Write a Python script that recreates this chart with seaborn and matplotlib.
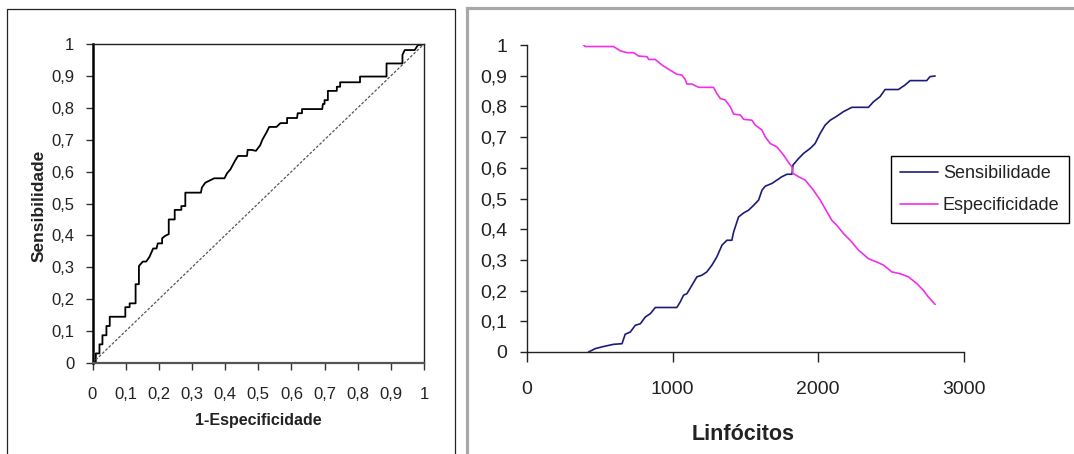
import numpy as np
import pandas as pd
import matplotlib
matplotlib.use("Agg")
import matplotlib.pyplot as plt
from matplotlib.patches import Rectangle
from matplotlib.ticker import FixedLocator, FuncFormatter
import seaborn as sns

# ROC curve vertices (1 - specificity, sensitivity)
roc_fpr = [0.0, 0.010, 0.010, 0.021, 0.021, 0.030, 0.030, 0.042, 0.042, 0.052, 0.052,
           0.099, 0.099, 0.112, 0.112, 0.130, 0.130, 0.140, 0.140, 0.152, 0.162,
           0.172, 0.183, 0.193, 0.197, 0.210, 0.210, 0.220, 0.230, 0.230, 0.248,
           0.248, 0.268, 0.268, 0.280, 0.280, 0.327, 0.330, 0.340, 0.367, 0.398,
           0.406, 0.416, 0.431, 0.439, 0.466, 0.468, 0.481, 0.493, 0.506, 0.512,
           0.526, 0.533, 0.555, 0.567, 0.587, 0.587, 0.617, 0.619, 0.632, 0.632,
           0.693, 0.695, 0.700, 0.700, 0.710, 0.710, 0.737, 0.737, 0.747, 0.747,
           0.807, 0.807, 0.887, 0.887, 0.935, 0.935, 0.942, 0.972, 0.982, 0.990, 1.0]
roc_tpr = [0.0, 0.0, 0.030, 0.030, 0.0585, 0.0585, 0.087, 0.087, 0.116, 0.116, 0.145,
           0.145, 0.175, 0.175, 0.187, 0.187, 0.247, 0.247, 0.304, 0.318, 0.318,
           0.333, 0.359, 0.359, 0.375, 0.375, 0.391, 0.399, 0.404, 0.450, 0.450,
           0.480, 0.480, 0.492, 0.492, 0.534, 0.534, 0.550, 0.565, 0.579, 0.579,
           0.595, 0.607, 0.636, 0.649, 0.649, 0.668, 0.668, 0.665, 0.683, 0.699,
           0.725, 0.740, 0.740, 0.752, 0.752, 0.768, 0.768, 0.783, 0.783, 0.796,
           0.796, 0.812, 0.812, 0.824, 0.824, 0.853, 0.853, 0.866, 0.866, 0.880,
           0.880, 0.898, 0.898, 0.939, 0.939, 0.966, 0.981, 0.981, 0.997, 0.997, 1.0]

# Sensitivity / specificity against lymphocyte cut-off
sens_x = [423, 469, 527, 595, 653, 675, 710, 744, 779, 813, 848, 882, 1030, 1053,
          1076, 1099, 1133, 1168, 1202, 1236, 1271, 1305, 1340, 1374, 1408, 1420,
          1454, 1489, 1523, 1558, 1592, 1615, 1637, 1683, 1718, 1752, 1787, 1821,
          1828, 1866, 1901, 1946, 1980, 2015, 2049, 2084, 2129, 2175, 2233, 2347,
          2381, 2427, 2461, 2553, 2599, 2633, 2747, 2770, 2805]
sens_y = [0.0, 0.011, 0.018, 0.025, 0.027, 0.058, 0.065, 0.087, 0.092, 0.114, 0.125,
          0.145, 0.145, 0.163, 0.185, 0.190, 0.217, 0.245, 0.250, 0.261, 0.283,
          0.310, 0.348, 0.364, 0.364, 0.391, 0.440, 0.453, 0.462, 0.478, 0.495,
          0.527, 0.540, 0.549, 0.560, 0.571, 0.579, 0.579, 0.609, 0.630, 0.647,
          0.663, 0.679, 0.712, 0.739, 0.755, 0.768, 0.783, 0.797, 0.797, 0.815,
          0.832, 0.855, 0.855, 0.870, 0.884, 0.884, 0.897, 0.899]
esp_x = [389, 400, 595, 641, 687, 733, 767, 825, 836, 881, 927, 973, 1030, 1064,
         1087, 1099, 1133, 1180, 1282, 1305, 1328, 1362, 1397, 1420, 1466, 1489,
         1546, 1569, 1615, 1637, 1672, 1718, 1764, 1810, 1821, 1828, 1866, 1912,
         1969, 2015, 2049, 2095, 2129, 2175, 2221, 2278, 2347, 2404, 2450, 2507,
         2564, 2621, 2679, 2724, 2759, 2805]
esp_y = [1.0, 0.995, 0.995, 0.981, 0.975, 0.975, 0.964, 0.962, 0.953, 0.953, 0.935,
         0.921, 0.905, 0.902, 0.888, 0.873, 0.873, 0.862, 0.862, 0.842, 0.826,
         0.821, 0.799, 0.775, 0.772, 0.758, 0.755, 0.739, 0.723, 0.701, 0.679,
         0.668, 0.641, 0.609, 0.603, 0.582, 0.571, 0.560, 0.527, 0.495, 0.467,
         0.429, 0.413, 0.386, 0.364, 0.332, 0.304, 0.293, 0.283, 0.261, 0.255,
         0.245, 0.223, 0.201, 0.179, 0.155]

series_names = ["Sensibilidade", "Especificidade"]
series_colors = ["#1c1c78", "#f030e8"]
roc_ticks = [round(0.1 * i, 1) for i in range(11)]
cut_ticks = [0, 1000, 2000, 3000]

sns.set_theme(style="ticks")
plt.rcParams["font.family"] = ["Liberation Sans", "DejaVu Sans"]

W, H = 1074, 454
fig = plt.figure(figsize=(W / 100, H / 100), dpi=100)
fig.patch.set_facecolor("white")


def fx(px):
    return px / W


def fy(py):
    return 1 - py / H


# panel frames
fig.add_artist(Rectangle((fx(7), fy(470)), fx(448), fy(9) - fy(470),
                         transform=fig.transFigure, fill=False,
                         edgecolor="#222222", lw=0.9))
fig.add_artist(Rectangle((fx(466.5), fy(470)), fx(640), fy(8) - fy(470),
                         transform=fig.transFigure, fill=False,
                         edgecolor="#a8a8a8", lw=2.3))


def comma_fmt(v, _pos):
    if abs(v - round(v)) < 1e-9:
        return str(int(round(v)))
    return f"{v:.1f}".replace(".", ",")


# ---------- ROC ----------
ax1 = fig.add_axes([fx(92.5), fy(363), fx(424) - fx(92.5), fy(44) - fy(363)])
roc_df = pd.DataFrame({"fpr": roc_fpr, "tpr": roc_tpr})
sns.lineplot(data=roc_df, x="fpr", y="tpr", sort=False, estimator=None,
             color="black", lw=1.3, ax=ax1)
ax1.plot([0, 1], [0, 1], transform=ax1.transAxes, color="#555555", lw=0.9,
         linestyle=(0, (2.2, 1.4)))
ax1.set_xlim(0, 1)
ax1.set_ylim(0, 1)
ax1.xaxis.set_major_locator(FixedLocator(roc_ticks))
ax1.yaxis.set_major_locator(FixedLocator(roc_ticks))
ax1.xaxis.set_major_formatter(FuncFormatter(comma_fmt))
ax1.yaxis.set_major_formatter(FuncFormatter(comma_fmt))
ax1.tick_params(axis="x", direction="out", length=5, width=1, pad=12,
                labelsize=12, colors="#333333", labelcolor="#222222")
ax1.tick_params(axis="y", direction="out", length=5, width=1, pad=8,
                labelsize=12, colors="#333333", labelcolor="#222222")
ax1.spines["left"].set_linewidth(1.8)
ax1.spines["left"].set_color("black")
ax1.spines["bottom"].set_linewidth(1.6)
ax1.spines["bottom"].set_color("#555555")
for s in ("top", "right"):
    ax1.spines[s].set_linewidth(1.0)
    ax1.spines[s].set_color("#222222")
ax1.set_xlabel("")
ax1.set_ylabel("")
fig.text(fx(258), fy(421), "1-Especificidade", ha="center", va="center",
         fontsize=11.5, fontweight="bold", color="#222222")
fig.text(fx(39), fy(206), "Sensibilidade", ha="center", va="center",
         rotation=90, fontsize=12.5, fontweight="bold", color="#222222")

# ---------- Sensitivity / specificity ----------
ax2 = fig.add_axes([fx(527), fy(352), fx(963.5) - fx(527), fy(45) - fy(352)])
curves = pd.concat([
    pd.DataFrame({"Linfócitos": sens_x, "valor": sens_y, "serie": series_names[0]}),
    pd.DataFrame({"Linfócitos": esp_x, "valor": esp_y, "serie": series_names[1]}),
], ignore_index=True)
sns.lineplot(data=curves, x="Linfócitos", y="valor", hue="serie",
             hue_order=series_names, palette=series_colors, sort=False,
             estimator=None, lw=1.2, ax=ax2)
ax2.set_xlim(0, 3000)
ax2.set_ylim(0, 1)
ax2.xaxis.set_major_locator(FixedLocator(cut_ticks))
ax2.yaxis.set_major_locator(FixedLocator(roc_ticks))
ax2.yaxis.set_major_formatter(FuncFormatter(comma_fmt))
ax2.tick_params(axis="x", direction="out", length=7, width=1, pad=14,
                labelsize=14, colors="#222222")
ax2.tick_params(axis="y", direction="out", length=5, width=1, pad=9,
                labelsize=14, colors="#222222")
sns.despine(ax=ax2)
for s in ("left", "bottom"):
    ax2.spines[s].set_linewidth(1.0)
    ax2.spines[s].set_color("#222222")
ax2.set_xlabel("")
ax2.set_ylabel("")
fig.text(fx(743), fy(435), "Linfócitos", ha="center", va="center",
         fontsize=15.5, fontweight="bold", color="#222222")

handles, labels = ax2.get_legend_handles_labels()
leg = ax2.legend(handles, labels, loc="upper left",
                 bbox_to_anchor=(fx(891), fy(156)), bbox_transform=fig.transFigure,
                 borderaxespad=0, frameon=True, fancybox=False, framealpha=1,
                 edgecolor="black", handlelength=2.1, handletextpad=0.28,
                 labelspacing=0.85, borderpad=0.5, fontsize=13)
leg.get_frame().set_linewidth(1.0)
for t in leg.get_texts():
    t.set_color("#222222")

fig.savefig("out.png", dpi=100, facecolor="white")
